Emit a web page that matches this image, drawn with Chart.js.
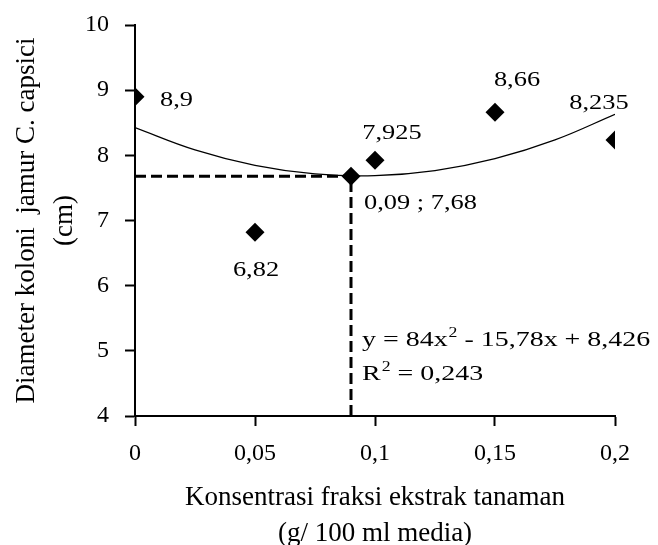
<!DOCTYPE html>
<html>
<head>
<meta charset="utf-8">
<script src="https://cdn.jsdelivr.net/npm/chart.js@4.4.1/dist/chart.umd.min.js"></script>
<style>
  html, body { margin: 0; padding: 0; background: #fff; }
  #wrap { width: 658px; height: 545px; }
</style>
</head>
<body>
<div id="wrap"><canvas id="scatterChart"></canvas></div>
<script>
// observed points
var konsentrasi = [0, 0.05, 0.09, 0.1, 0.15, 0.2];
var diameter = [8.9, 6.82, 7.68, 7.925, 8.66, 8.235];
var pointLabels = ['8,9', '6,82', '0,09 ; 7,68', '7,925', '8,66', '8,235'];

// quadratic trendline
var trendX = [0, 0.025, 0.05, 0.075, 0.1, 0.125, 0.15, 0.175, 0.2];
var trendY = [8.426, 8.084, 7.847, 7.715, 7.688, 7.766, 7.949, 8.237, 8.63];

// optimum guide lines
var optX = 0.09;
var optY = 7.68;

var xTicks = [0, 0.05, 0.1, 0.15, 0.2];
var yTicks = [4, 5, 6, 7, 8, 9, 10];

var serif = "'Liberation Serif', 'DejaVu Serif', serif";

function comma(v) {
    return (Math.round(v * 1000) / 1000).toString().replace('.', ',');
}

// label offsets in px: [dx, dy, align]
var labelPos = [
    [25, 4, 'left'],
    [1, 38, 'center'],
    [13, 27, 'left'],
    [17, -27, 'center'],
    [22, -32, 'center'],
    [-16, -37, 'center']
];

// text drawn a bit wider, like the original figure
function wideText(ctx, txt, x, y, sx, align) {
    var w = ctx.measureText(txt).width * sx;
    var x0 = x;
    if (align === 'center') x0 = x - w / 2;
    ctx.save();
    ctx.translate(x0, y);
    ctx.scale(sx, 1);
    ctx.textAlign = 'left';
    ctx.fillText(txt, 0, 0);
    ctx.restore();
    return w;
}

var labelPlugin = {
    id: 'labelPlugin',
    afterDatasetsDraw: function (chart) {
        var ctx = chart.ctx;
        var xs = chart.scales.x, ys = chart.scales.y;
        ctx.save();
        ctx.fillStyle = '#000';
        ctx.font = '22px ' + serif;
        ctx.textBaseline = 'middle';
        for (var i = 0; i < konsentrasi.length; i++) {
            var px = xs.getPixelForValue(konsentrasi[i]);
            var py = ys.getPixelForValue(diameter[i]);
            wideText(ctx, pointLabels[i], px + labelPos[i][0], py + labelPos[i][1], 1.2, labelPos[i][2]);
        }
        // equation
        var sx = 1.27;
        var ex = xs.getPixelForValue(optX) + 11;
        var big = '22px ' + serif, small = '14px ' + serif;
        var x = ex;
        ctx.font = big;
        x += wideText(ctx, 'y = 84x', x, 340, sx, 'left') + 1;
        ctx.font = small;
        x += wideText(ctx, '2', x, 333, sx, 'left');
        ctx.font = big;
        wideText(ctx, ' - 15,78x + 8,426', x, 340, sx, 'left');
        x = ex;
        x += wideText(ctx, 'R', x, 374, sx, 'left') + 1;
        ctx.font = small;
        x += wideText(ctx, '2', x, 367, sx, 'left');
        ctx.font = big;
        wideText(ctx, ' = 0,243', x, 374, sx, 'left');
        ctx.restore();
    }
};

var ctx = document.getElementById('scatterChart').getContext('2d');

var chart = new Chart(ctx, {
    type: 'scatter',
    data: {
        datasets: [{
            label: 'Trend',
            type: 'line',
            data: trendX.map(function (x, i) { return { x: x, y: trendY[i] }; }),
            borderColor: '#000',
            borderWidth: 1.2,
            pointRadius: 0,
            tension: 0.4,
            fill: false,
            order: 3
        }, {
            label: 'Guide H',
            type: 'line',
            data: [{ x: 0, y: optY }, { x: optX, y: optY }],
            borderColor: '#000',
            borderWidth: 3,
            borderDash: [11, 5],
            pointRadius: 0,
            fill: false,
            order: 2
        }, {
            label: 'Guide V',
            type: 'line',
            data: [{ x: optX, y: 4 }, { x: optX, y: optY }],
            borderColor: '#000',
            borderWidth: 3,
            borderDash: [11, 5],
            pointRadius: 0,
            fill: false,
            order: 2
        }, {
            label: 'Diameter',
            data: konsentrasi.map(function (x, i) { return { x: x, y: diameter[i] }; }),
            pointStyle: 'rectRot',
            pointRadius: 9.5,
            backgroundColor: '#000',
            borderColor: '#000',
            borderWidth: 0,
            order: 1
        }]
    },
    options: {
        responsive: true,
        maintainAspectRatio: false,
        animation: false,
        events: [],
        layout: { padding: { top: 25, right: 43, bottom: 0, left: 8 } },
        plugins: {
            legend: { display: false },
            tooltip: { enabled: false }
        },
        scales: {
            x: {
                type: 'linear',
                min: 0,
                max: 0.2,
                afterBuildTicks: function (s) { s.ticks = xTicks.map(function (v) { return { value: v }; }); },
                afterFit: function (s) { s.height = 129; s.paddingLeft = 0; s.paddingRight = 0; },
                grid: { display: true, drawOnChartArea: false, drawTicks: true, tickLength: 10, tickWidth: 2, color: '#000' },
                border: { color: '#000', width: 2 },
                ticks: {
                    color: '#000',
                    font: { family: serif, size: 24 },
                    padding: 13,
                    callback: function (v) { return comma(v); }
                },
                title: {
                    display: true,
                    text: ['Konsentrasi fraksi ekstrak tanaman', '(g/ 100 ml media)'],
                    color: '#000',
                    font: { family: serif, size: 27, lineHeight: 1.3 },
                    padding: { top: 10, bottom: -6 }
                }
            },
            y: {
                min: 4,
                max: 10,
                afterBuildTicks: function (s) { s.ticks = yTicks.map(function (v) { return { value: v }; }); },
                afterFit: function (s) { s.width = 127; s.paddingTop = 0; s.paddingBottom = 0; },
                grid: { display: true, drawOnChartArea: false, drawTicks: true, tickLength: 10, tickWidth: 2, color: '#000' },
                border: { color: '#000', width: 2 },
                ticks: {
                    color: '#000',
                    font: { family: serif, size: 24 },
                    padding: 16,
                    callback: function (v) { return comma(v); }
                },
                title: {
                    display: true,
                    text: ['Diameter koloni  jamur C. capsici', '(cm)'],
                    color: '#000',
                    font: { family: serif, size: 27, lineHeight: 1.4 },
                    padding: { top: 0, bottom: 10 }
                }
            }
        }
    },
    plugins: [labelPlugin]
});
</script>
</body>
</html>
